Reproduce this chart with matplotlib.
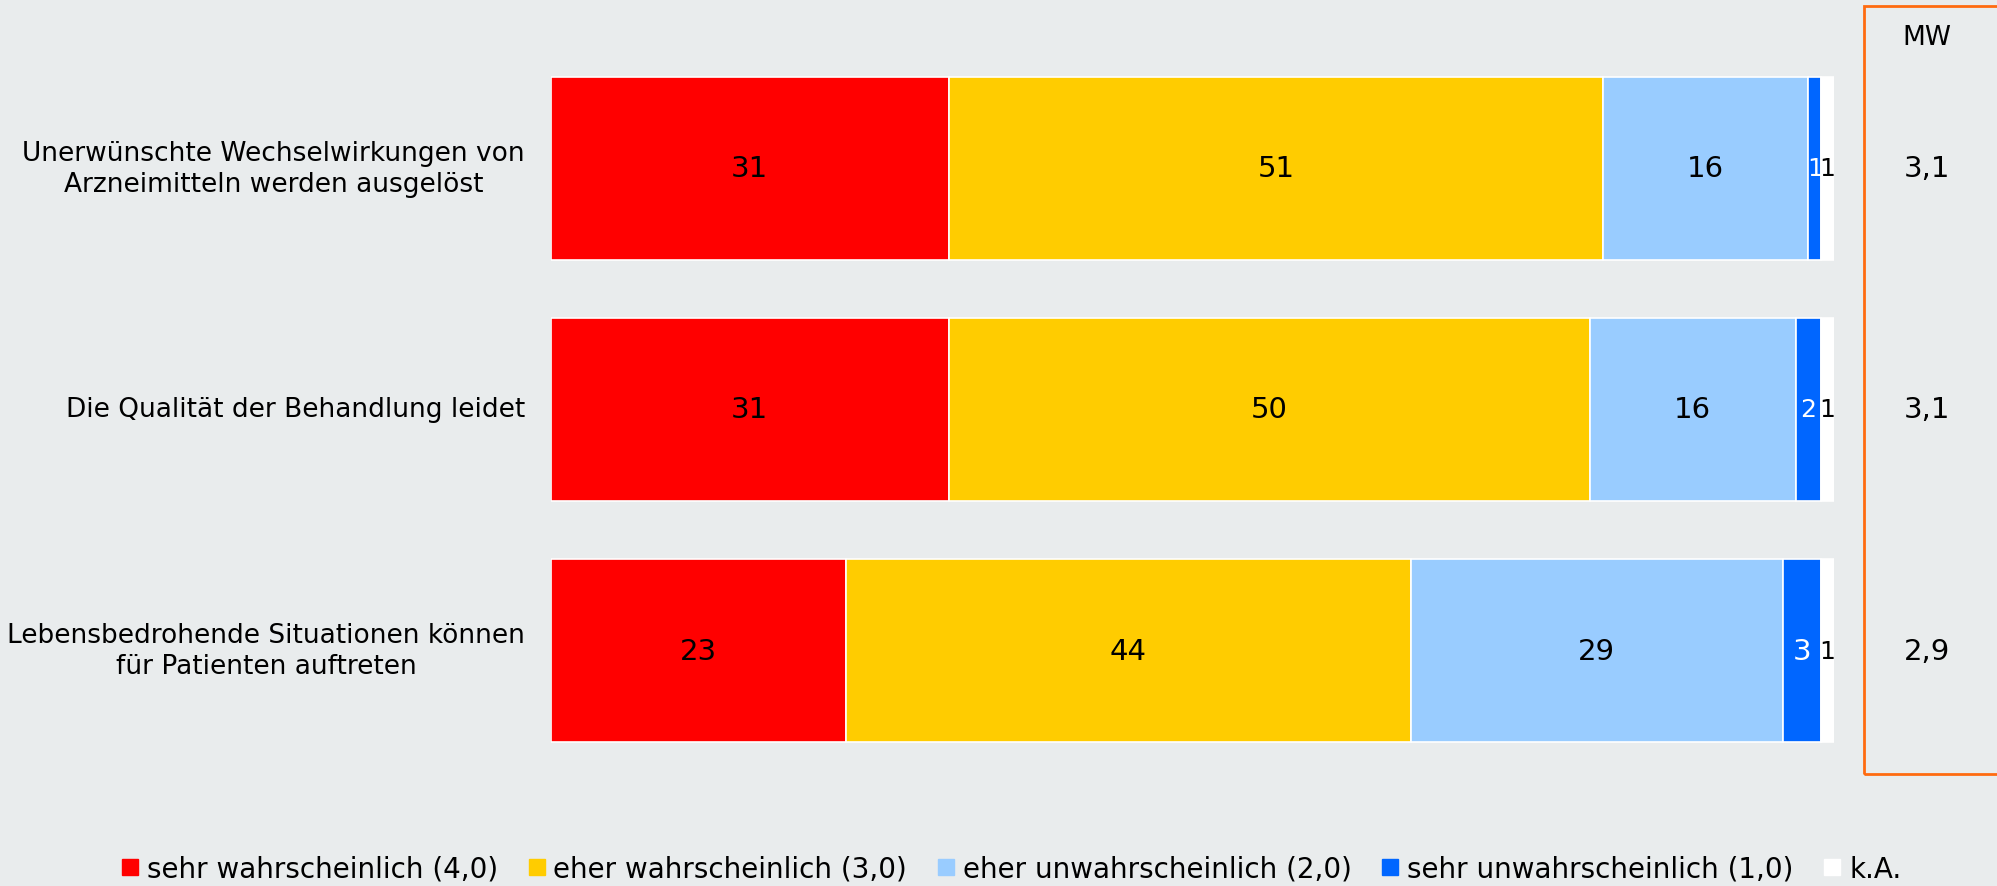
import matplotlib.pyplot as plt
from matplotlib.lines import Line2D
from matplotlib.patches import Rectangle
from matplotlib.transforms import blended_transform_factory

# data
categories = [
    "Unerwünschte Wechselwirkungen von\nArzneimitteln werden ausgelöst",
    "Die Qualität der Behandlung leidet",
    "Lebensbedrohende Situationen können\nfür Patienten auftreten",
]
series_names = [
    "sehr wahrscheinlich (4,0)",
    "eher wahrscheinlich (3,0)",
    "eher unwahrscheinlich (2,0)",
    "sehr unwahrscheinlich (1,0)",
    "k.A.",
]
values = [
    [31, 31, 23],
    [51, 50, 44],
    [16, 16, 29],
    [1, 2, 3],
    [1, 1, 1],
]
mean_values = ["3,1", "3,1", "2,9"]

colors = ["#FF0000", "#FFCC00", "#99CCFF", "#0066FF", "#FFFFFF"]
label_colors = ["black", "black", "black", "white", "black"]
bg = "#E9ECED"

W, H = 1997, 887
fig = plt.figure(figsize=(W / 100, H / 100), dpi=100, facecolor=bg)

# axes placed so that 0..100 maps to the bar area
top_px, bot_px = 40, 800
ax = fig.add_axes([551 / W, 1 - bot_px / H, 1283 / W, (bot_px - top_px) / H])
ax.set_facecolor(bg)
ax.set_xlim(0, 100)
ax.set_ylim(2.616, -0.537)
ax.axis("off")

fs_cat = 19
fs_num = 21
fs_leg = 20
ypos = list(range(len(categories)))
left = [0] * len(categories)
for name, vals, col, tcol in zip(series_names, values, colors, label_colors):
    ax.barh(ypos, vals, left=left, height=0.76, color=col,
            edgecolor="white", linewidth=1.2, label=name)
    for y, v, l in zip(ypos, vals, left):
        # narrow segments get a slightly smaller number so neighbours don't collide
        ax.text(l + v / 2, y, str(v), ha="center", va="center",
                fontsize=fs_num if v > 2 else 18, color=tcol)
    left = [l + v for l, v in zip(left, vals)]

# category labels
lab_tr = blended_transform_factory(fig.transFigure, ax.transData)
for y, cat in zip(ypos, categories):
    ax.text(525 / W, y, cat, transform=lab_tr, ha="right", va="center",
            multialignment="center", fontsize=fs_cat, linespacing=1.25)

# MW box
fig.patches.append(Rectangle((1864 / W, 1 - 775 / H), 0.2, (775 - 7) / H,
                             transform=fig.transFigure, fill=False,
                             edgecolor="#FF6B10", linewidth=2))
fig.text(1927 / W, 1 - 38 / H, "MW", ha="center", va="center", fontsize=fs_cat)
for y, mw in zip(ypos, mean_values):
    ax.text(1927 / W, y, mw, transform=lab_tr, ha="center", va="center",
            fontsize=fs_num)

# legend
handles = [Line2D([], [], marker="s", linestyle="none", markersize=12,
                  markerfacecolor=c, markeredgecolor=c) for c in colors]
fig.legend(handles, series_names, loc="center", ncol=5,
           bbox_to_anchor=(0.5065, 1 - 870 / H), frameon=False, fontsize=fs_leg,
           handlelength=0.6, handletextpad=0.3, columnspacing=1.1)

plt.savefig("out.png", dpi=100, facecolor=bg)
plt.close()
